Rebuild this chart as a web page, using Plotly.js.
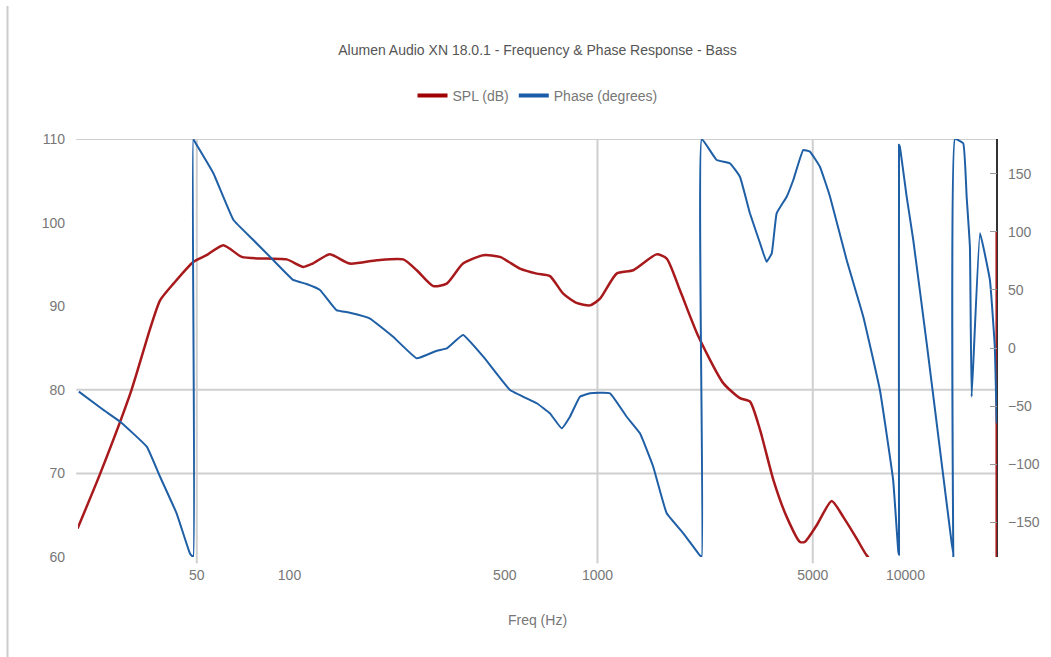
<!DOCTYPE html>
<html>
<head>
<meta charset="utf-8">
<script src="https://cdn.plot.ly/plotly-3.0.1.min.js"></script>
<style>
  html, body { margin: 0; padding: 0; background: #fff; }
  #chart { width: 1051px; height: 657px; }
</style>
</head>
<body>
<div id="chart"></div>
<script>
// ---- Data ----
const chartTitle = "Alumen Audio XN 18.0.1 - Frequency & Phase Response - Bass";
const xTitle = "Freq (Hz)";
const splName = "SPL (dB)";
const phaseName = "Phase (degrees)";

const xTickVals = [50, 100, 500, 1000, 5000, 10000];
const xTickText = ["50", "100", "500", "1000", "5000", "10000"];
const yTickVals = [60, 70, 80, 90, 100, 110];
const y2TickVals = [-150, -100, -50, 0, 50, 100, 150];

const splFreq = [20.5, 24.3, 30.7, 35.2, 38, 42, 48.7, 53.8, 61, 70, 84.3, 98, 111, 119, 135, 157, 192, 234, 259, 293, 324, 366, 426, 482, 560, 635, 701, 774, 855, 946, 1019, 1154, 1307, 1556, 1678, 1853, 2125, 2561, 2901, 3126, 3372, 3726, 4115, 4545, 4710, 5150, 5760, 6280, 6945, 7480, 9000, 12000, 16000, 19780, 19780, 19780];
const splDb = [63.4, 70.0, 80.0, 87.2, 90.7, 92.7, 95.3, 96.1, 97.3, 95.9, 95.7, 95.6, 94.7, 95.1, 96.2, 95.1, 95.5, 95.6, 94.3, 92.4, 92.7, 95.1, 96.1, 95.9, 94.5, 93.9, 93.6, 91.5, 90.4, 90.1, 90.9, 93.9, 94.3, 96.2, 95.7, 91.9, 86.4, 80.8, 79.0, 78.6, 75.2, 69.2, 64.8, 61.8, 61.8, 63.8, 66.7, 64.8, 62.2, 60.2, 57, 54, 52, 45, 59.5, 98.9];

const phaseFreq = [20.7, 24.9, 28.2, 34.4, 38, 43, 47.5, 48.7, 48.7, 49.6, 56.6, 65.8, 76.3, 88.5, 102.8, 113.6, 125.6, 142, 157, 182, 217, 259, 301, 324, 366, 426, 520, 635, 701, 765, 814, 877, 946, 1098, 1244, 1374, 1517, 1678, 1900, 2125, 2180, 2180, 2438, 2693, 2901, 3126, 3372, 3540, 3680, 3817, 4115, 4323, 4655, 4894, 5275, 5690, 6442, 7295, 8260, 9120, 9480, 9530, 9530, 9590, 10090, 10600, 11720, 12950, 14130, 14300, 14300, 14480, 15400, 15800, 16190, 16400, 17460, 18800, 19500, 19780];
const phaseDeg = [-37.6, -53.4, -63.5, -85, -110.9, -142.4, -176.9, -180, 180, 176.3, 150.5, 110.2, 93, 75.8, 58.6, 55.1, 50, 32.7, 30.4, 25.6, 9.7, -8.9, -2.3, -0.3, 11.2, -7.5, -36.2, -47.6, -56.3, -69.2, -59.2, -42, -39, -39, -59.2, -73.5, -102.3, -142.4, -159.6, -176.9, -180, 180, 161.9, 159, 147.5, 116, 90.2, 74.3, 81.5, 116, 130.3, 144.7, 170.5, 169.1, 156.1, 130.3, 75.8, 27, -36.2, -113.7, -175.4, -178, 175, 173.4, 130.3, 93, 4, -87.9, -168.3, -176.9, -180, 180, 176.3, 130.3, 87.2, -42, 98.8, 58.6, 1.1, -64.9, -75];

const gridY = [110, 80, 70];
const gridX = [50, 1000, 5000];

// ---- Styles ----
const RED = "#a8191c";
const BLUE = "#1f5fa6";
const FONT = "Liberation Sans, Arial, sans-serif";

const traces = [
  { x: splFreq, y: splDb, name: splName, type: "scatter", mode: "lines",
    line: { color: RED, width: 2.5, shape: "spline", smoothing: 0.6 }, yaxis: "y", showlegend: false },
  { x: phaseFreq, y: phaseDeg, name: phaseName, type: "scatter", mode: "lines",
    line: { color: BLUE, width: 2, shape: "spline", smoothing: 0.3 }, yaxis: "y2", showlegend: false },
  { x: [null], y: [null], name: splName, type: "scatter", mode: "lines",
    line: { color: "#a00000", width: 4 }, showlegend: true },
  { x: [null], y: [null], name: phaseName, type: "scatter", mode: "lines",
    line: { color: "#1a5ca8", width: 4 }, showlegend: true }
];

const shapes = [];
gridY.forEach(v => shapes.push({ type: "line", xref: "paper", x0: -0.002, x1: 1, yref: "y", y0: v, y1: v,
  line: { color: "#cfcfcf", width: 2 }, layer: "below" }));
gridX.forEach(v => shapes.push({ type: "line", xref: "x", x0: v, x1: v, yref: "paper", y0: -0.015, y1: 1,
  line: { color: "#cfcfcf", width: 2 }, layer: "below" }));
// right axis line (drawn beneath the traces)
shapes.push({ type: "line", xref: "paper", yref: "paper", x0: 1, x1: 1, y0: 0, y1: 1,
  line: { color: "#333333", width: 2 }, layer: "below" });
// page border on the left
shapes.push({ type: "line", xref: "paper", yref: "paper", x0: -0.0767, x1: -0.0767, y0: 1.318, y1: -0.24,
  line: { color: "#cccccc", width: 2 } });

const layout = {
  width: 1051, height: 657,
  paper_bgcolor: "#ffffff", plot_bgcolor: "rgba(0,0,0,0)",
  margin: { l: 78, r: 54, t: 139, b: 100 },
  font: { family: FONT, size: 14, color: "#777777" },
  title: { text: chartTitle, x: 0.5, xref: "paper", xanchor: "center", y: 1 - 50/657, yref: "container", yanchor: "middle",
    font: { family: FONT, size: 14, color: "#555555" } },
  showlegend: true,
  legend: { orientation: "h", x: 0.5, xanchor: "center", y: 1.103, yanchor: "middle",
    font: { family: FONT, size: 14, color: "#777777" }, bgcolor: "rgba(0,0,0,0)" },
  xaxis: { type: "log", range: [1.3133, 4.2972], tickvals: xTickVals, ticktext: xTickText,
    showgrid: false, zeroline: false, showline: false, ticks: "", ticklabelstandoff: 8,
    tickfont: { family: FONT, size: 14, color: "#777777" },
    title: { text: xTitle, standoff: 33, font: { family: FONT, size: 14, color: "#777777" } } },
  yaxis: { range: [60, 110], tickvals: yTickVals, showgrid: false, zeroline: false, showline: false,
    ticks: "", ticklabelstandoff: 12, tickfont: { family: FONT, size: 14, color: "#777777" } },
  yaxis2: { range: [-180, 180], tickvals: y2TickVals, overlaying: "y", side: "right", showgrid: false,
    zeroline: false, showline: false, ticks: "inside", ticklen: 7,
    tickcolor: "#999999", ticklabelstandoff: 10,
    tickfont: { family: FONT, size: 14, color: "#777777" } },
  shapes: shapes
};

Plotly.newPlot("chart", traces, layout, { displayModeBar: false, staticPlot: true });
</script>
</body>
</html>
